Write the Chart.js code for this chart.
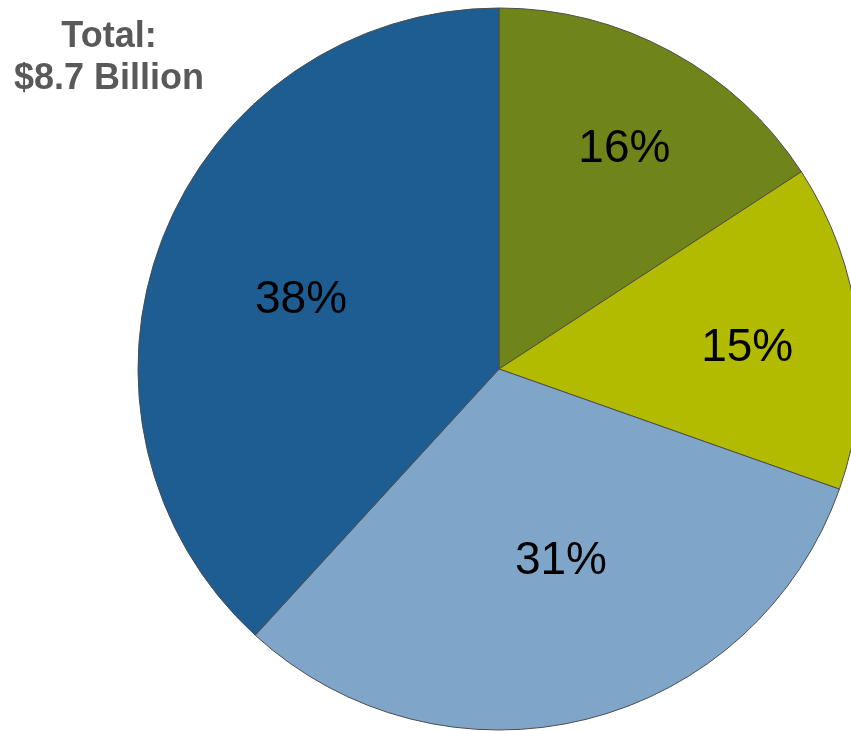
<!DOCTYPE html>
<html>
<head>
<meta charset="utf-8">
<script src="https://cdn.jsdelivr.net/npm/chart.js@4.4.1/dist/chart.umd.min.js"></script>
<style>
  html, body { margin: 0; padding: 0; background: #fff; overflow: hidden; }
  #wrap { position: relative; width: 998px; height: 731px; }
  #total {
    position: absolute; left: 0; top: 14px; width: 218px;
    text-align: center; font-family: Arial, "Liberation Sans", sans-serif;
    font-weight: bold; font-size: 36px; line-height: 42px; color: #595959;
  }
</style>
</head>
<body>
<div id="wrap">
  <canvas id="pieChart"></canvas>
  <div id="total">Total:<br>$8.7 Billion</div>
</div>
<script>
// slices clockwise from 12 o'clock, sizes
const segments = ['Segment A', 'Segment B', 'Segment C', 'Segment D'];
const shares = [15.8, 14.6, 31.4, 38.2];
const pctLabels = ['16%', '15%', '31%', '38%'];
const sliceColors = ['#6f851a', '#b3bb00', '#7fa6c9', '#1e5d91'];
// where each percent label sits: fraction of radius, and nudge in degrees
const labelRadius = [0.70, 0.69, 0.56, 0.58];
const labelNudge = [1.3, 2.0, -3.8, -2.2];

const percentLabels = {
    id: 'percentLabels',
    afterDatasetsDraw(chart) {
        const ctx = chart.ctx;
        const arcs = chart.getDatasetMeta(0).data;
        ctx.save();
        ctx.font = '46px Arial, "Liberation Sans", sans-serif';
        ctx.fillStyle = '#000';
        ctx.textAlign = 'center';
        ctx.textBaseline = 'middle';
        arcs.forEach((arc, i) => {
            const mid = (arc.startAngle + arc.endAngle) / 2 + labelNudge[i] * Math.PI / 180;
            const r = arc.outerRadius * labelRadius[i];
            ctx.fillText(pctLabels[i], arc.x + Math.cos(mid) * r, arc.y + Math.sin(mid) * r);
        });
        ctx.restore();
    }
};

const ctx = document.getElementById('pieChart').getContext('2d');
new Chart(ctx, {
    type: 'pie',
    data: {
        labels: segments,
        datasets: [{
            data: shares,
            backgroundColor: sliceColors,
            borderColor: '#4d4d4d',
            borderWidth: 1
        }]
    },
    options: {
        responsive: true,
        maintainAspectRatio: false,
        animation: false,
        radius: 361,
        layout: { padding: { top: 8, bottom: 1 } },
        plugins: {
            legend: { display: false },
            tooltip: { enabled: false }
        }
    },
    plugins: [percentLabels]
});
</script>
</body>
</html>
